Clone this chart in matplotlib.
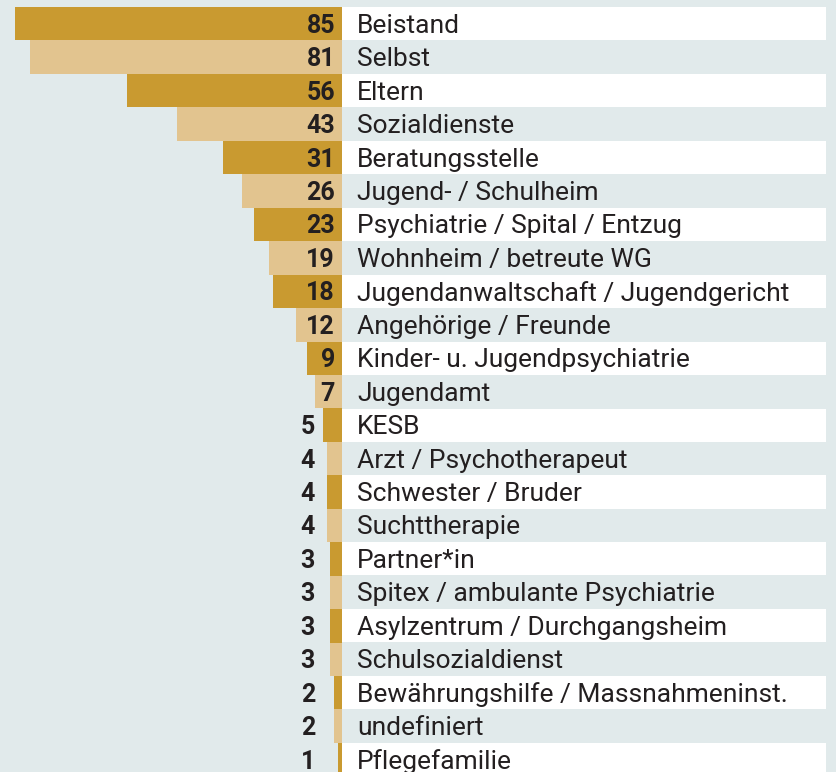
import matplotlib.pyplot as plt

labels = ['Beistand', 'Selbst', 'Eltern', 'Sozialdienste', 'Beratungsstelle',
          'Jugend- / Schulheim', 'Psychiatrie / Spital / Entzug', 'Wohnheim / betreute WG',
          'Jugendanwaltschaft / Jugendgericht', 'Angehörige / Freunde',
          'Kinder- u. Jugendpsychiatrie', 'Jugendamt', 'KESB', 'Arzt / Psychotherapeut',
          'Schwester / Bruder', 'Suchttherapie', 'Partner*in',
          'Spitex / ambulante Psychiatrie', 'Asylzentrum / Durchgangsheim',
          'Schulsozialdienst', 'Bewährungshilfe / Massnahmeninst.', 'undefiniert',
          'Pflegefamilie']
values = [85, 81, 56, 43, 31, 26, 23, 19, 18, 12, 9, 7, 5, 4, 4, 4, 3, 3, 3, 3, 2, 2, 1]

BG = '#e1eaeb'
DARK = '#c99a30'
LIGHT = '#e2c48f'
TEXT = '#231f20'

W, H = 836, 772
px_unit = 3.847      # pixels per value unit
x0 = 342             # pixel position of value 0
pitch = 33.45        # row pitch in pixels
top = 7.0            # top of first row in pixels

plt.rcParams['font.family'] = ['Roboto', 'DejaVu Sans']
fig = plt.figure(figsize=(W / 100, H / 100), dpi=100)
fig.patch.set_facecolor(BG)
ax = fig.add_axes([0, 0, 1, 1])
ax.set_facecolor(BG)
ax.set_xlim(-x0 / px_unit, (W - x0) / px_unit)
ax.set_ylim((H - top) / pitch - 0.5, -top / pitch - 0.5)
ax.axis('off')

n = len(values)
rows = list(range(n))
box_right = (826 - x0) / px_unit

# white label boxes on every other row
for i in rows:
    if i % 2 == 0:
        ax.barh(i, box_right, left=0, height=0.99, color='white', zorder=1)

colors = [DARK if i % 2 == 0 else LIGHT for i in rows]
ax.barh(rows, [-v for v in values], left=0, height=1.0, color=colors, zorder=2)

for i, (lab, v) in enumerate(zip(labels, values)):
    ax.text(15 / px_unit, i + 0.06, lab, ha='left', va='center',
            fontsize=19, color=TEXT, zorder=3)
    if v >= 7:
        vx = -7 / px_unit
    else:
        vx = -27 / px_unit
    ax.text(vx, i + 0.06, str(v), ha='right', va='center', fontsize=18,
            fontweight='bold', color=TEXT, zorder=3)

fig.savefig('out.png', dpi=100, facecolor=BG)
